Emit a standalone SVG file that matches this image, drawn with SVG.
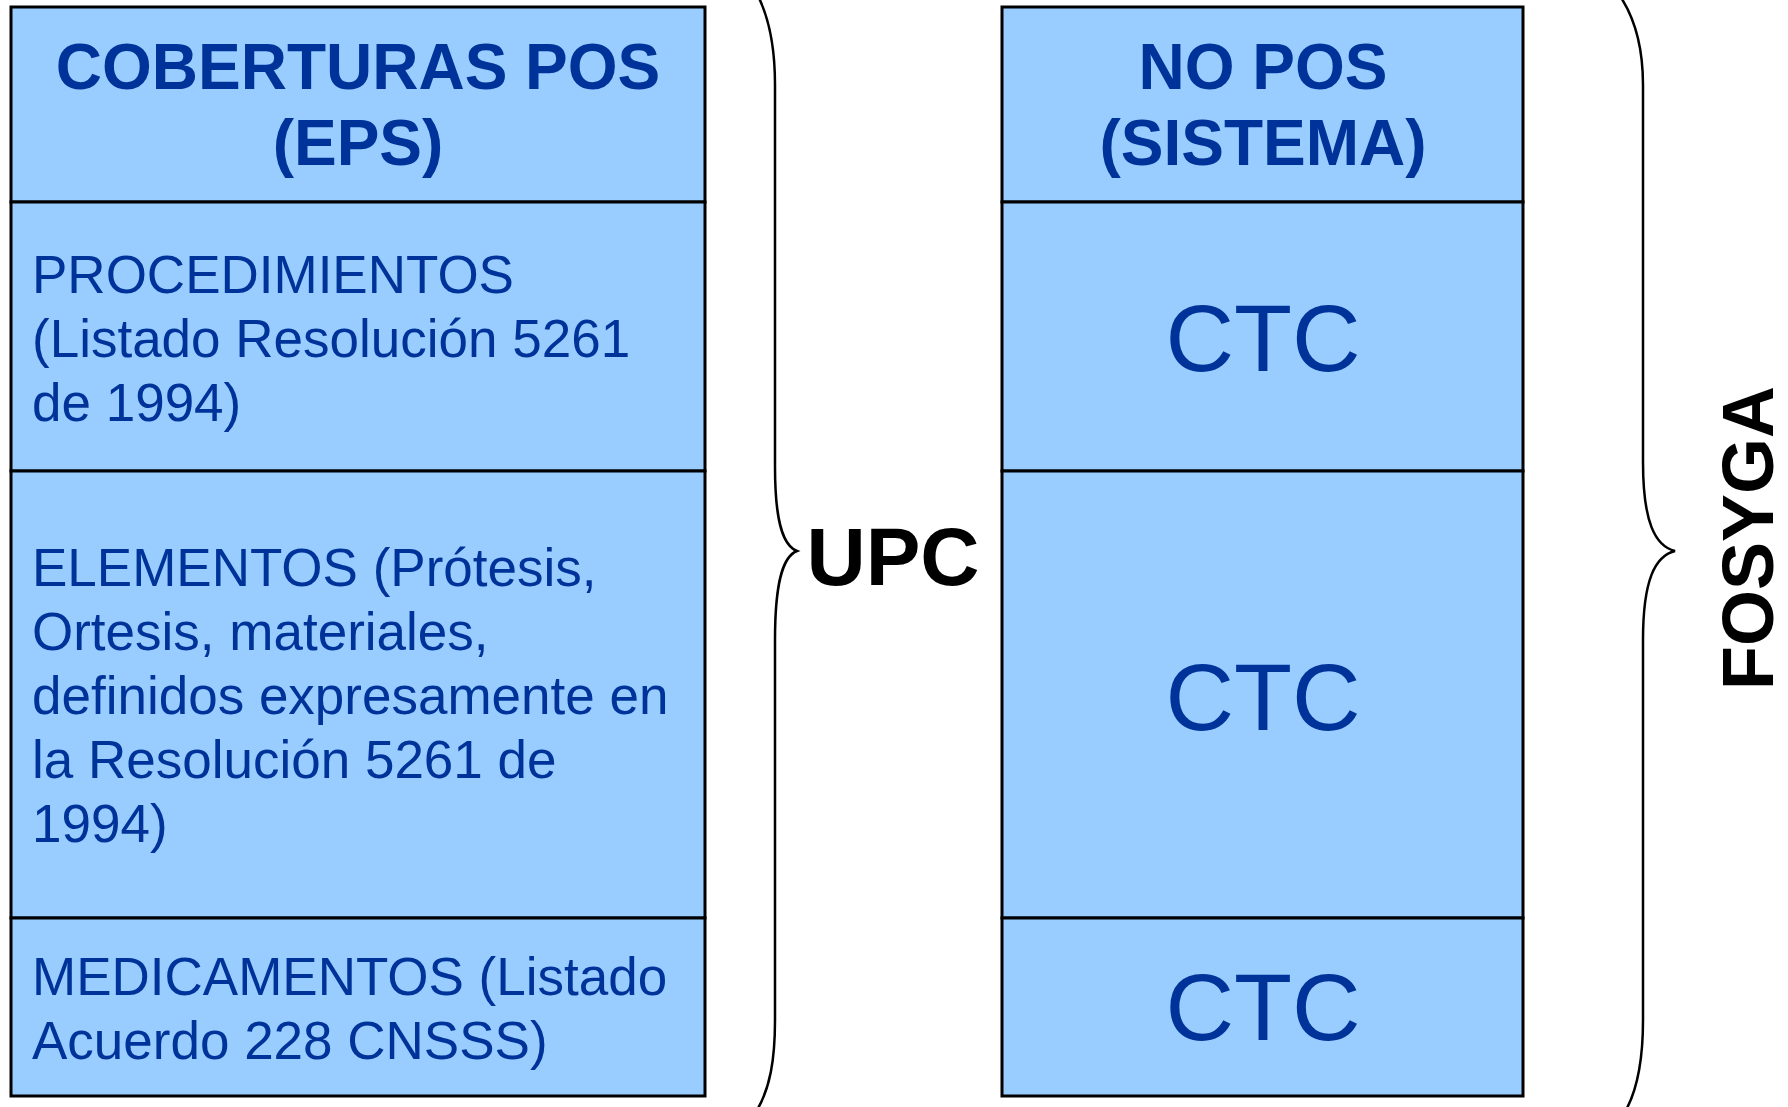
<svg xmlns="http://www.w3.org/2000/svg" width="1788" height="1107" viewBox="0 0 1788 1107">
<style>
.cell{fill:#99CCFF;stroke:#000;stroke-width:3}
.hd{font-family:"Liberation Sans",Arial,sans-serif;font-weight:bold;font-size:64px;fill:#003399;text-anchor:middle}
.bd{font-family:"Liberation Sans",Arial,sans-serif;font-size:53px;fill:#003399}
.ctc{font-family:"Liberation Sans",Arial,sans-serif;font-size:95px;fill:#003399;text-anchor:middle}
.lbl{font-family:"Liberation Sans",Arial,sans-serif;font-weight:bold;fill:#000}
.brace{fill:none;stroke:#000;stroke-width:2.5}
</style>
<rect width="1788" height="1107" fill="#fff"/>
<g id="pos-header">
<rect class="cell" x="11" y="7" width="694" height="195"/>
<text class="hd" x="358" y="89">COBERTURAS POS</text>
<text class="hd" x="358" y="165">(EPS)</text>
</g>
<g id="procedimientos">
<rect class="cell" x="11" y="202" width="694" height="269"/>
<text class="bd" x="32" y="293">PROCEDIMIENTOS</text>
<text class="bd" x="32" y="357">(Listado Resolución 5261</text>
<text class="bd" x="32" y="421">de 1994)</text>
</g>
<g id="elementos">
<rect class="cell" x="11" y="471" width="694" height="447"/>
<text class="bd" x="32" y="586">ELEMENTOS (Prótesis,</text>
<text class="bd" x="32" y="650">Ortesis, materiales,</text>
<text class="bd" x="32" y="714">definidos expresamente en</text>
<text class="bd" x="32" y="778">la Resolución 5261 de</text>
<text class="bd" x="32" y="842">1994)</text>
</g>
<g id="medicamentos">
<rect class="cell" x="11" y="918" width="694" height="178"/>
<text class="bd" x="32" y="995">MEDICAMENTOS (Listado</text>
<text class="bd" x="32" y="1059">Acuerdo 228 CNSSS)</text>
</g>
<g id="nopos-header">
<rect class="cell" x="1002" y="7" width="521" height="195"/>
<text class="hd" x="1263" y="89">NO POS</text>
<text class="hd" x="1263" y="165">(SISTEMA)</text>
</g>
<g id="ctc-1">
<rect class="cell" x="1002" y="202" width="521" height="269"/>
<text class="ctc" x="1263" y="371">CTC</text>
</g>
<g id="ctc-2">
<rect class="cell" x="1002" y="471" width="521" height="447"/>
<text class="ctc" x="1263" y="730">CTC</text>
</g>
<g id="ctc-3">
<rect class="cell" x="1002" y="918" width="521" height="178"/>
<text class="ctc" x="1263" y="1040">CTC</text>
</g>
<g id="connectors">
<path class="brace" d="M758,-4 C770,20 775,50 775,85 L775,467 C775,525 784,546 797,551 C784,556 775,578 775,640 L775,1020 C775,1060 770,1088 757,1110"/>
<path class="brace" d="M1620,-4 C1636,20 1643,50 1643,85 L1643,462 C1643,522 1655,546 1675,551 C1655,556 1643,580 1643,640 L1643,1020 C1643,1060 1638,1088 1626,1110"/>
</g>
<g id="upc">
<text class="lbl" x="893" y="585" font-size="82" text-anchor="middle">UPC</text>
</g>
<g id="fosyga">
<text class="lbl" font-size="72" text-anchor="middle" transform="translate(1773,538) rotate(-90)">FOSYGA</text>
</g>
</svg>
